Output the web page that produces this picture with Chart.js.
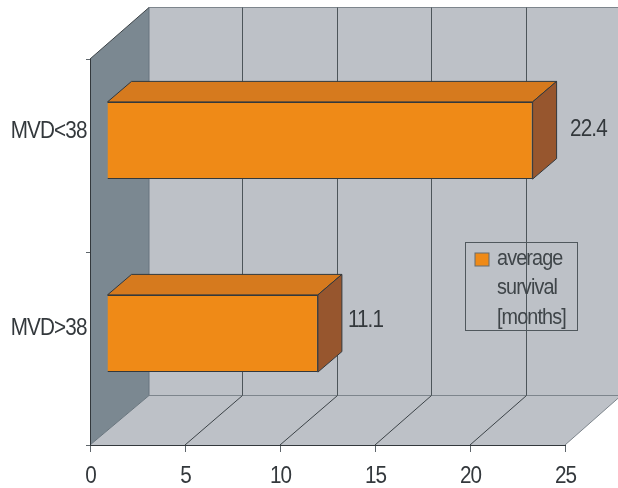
<!DOCTYPE html>
<html>
<head>
<meta charset="utf-8">
<title>Average survival</title>
<style>
    html, body { margin: 0; padding: 0; background: #ffffff; }
    canvas { display: block; }
</style>
<script src="https://cdn.jsdelivr.net/npm/chart.js@4"></script>
</head>
<body>
<canvas id="chart" width="618" height="488"></canvas>
<script>
const categories = ['MVD<38', 'MVD>38'];
const survivalMonths = [22.4, 11.1];
const legendLines = ['average', 'survival', '[months]'];
const axisMax = 25;
const axisStep = 5;

const FONT = '"Liberation Sans", Arial, sans-serif';
const TEXT_COLOR = '#33383c';
const SQUEEZE = 0.88;

// depth of the room and of the bars, in pixels
const ROOM_DX = 59;
const ROOM_DY_TOP = -51.5;
const ROOM_DY_BOTTOM = -49.5;
const BAR_SHIFT_X = 17;
const BAR_SHIFT_Y = -15;
const BAR_DX = 24;
const BAR_DY = -20.5;

function poly(ctx, pts, fill, stroke) {
    ctx.beginPath();
    pts.forEach((p, i) => i ? ctx.lineTo(p[0], p[1]) : ctx.moveTo(p[0], p[1]));
    ctx.closePath();
    if (fill) {
        ctx.fillStyle = fill;
        ctx.fill();
    }
    if (stroke) {
        ctx.strokeStyle = stroke;
        ctx.stroke();
    }
}

function line(ctx, x1, y1, x2, y2, color) {
    ctx.strokeStyle = color;
    ctx.beginPath();
    ctx.moveTo(x1, y1);
    ctx.lineTo(x2, y2);
    ctx.stroke();
}

// tight, slightly condensed text: no narrow face is available, so squeeze the regular one
function narrowText(ctx, text, x, y, align) {
    ctx.save();
    ctx.translate(x, y);
    ctx.scale(SQUEEZE, 1);
    ctx.letterSpacing = '-1px';
    ctx.textAlign = align;
    ctx.textBaseline = 'alphabetic';
    ctx.fillText(text, 0, 0);
    ctx.restore();
}

// back wall, side wall and floor, with the gridlines carried round them
const roomPlugin = {
    id: 'room',
    beforeDraw(chart) {
        const { ctx, chartArea: a, scales } = chart;
        // the back wall sits slightly narrower than the front plane
        const backX = x => x + ROOM_DX - (x - a.left) * 0.006;
        const top = a.top + ROOM_DY_TOP;
        const floor = a.bottom + ROOM_DY_BOTTOM;
        const bl = backX(a.left), br = backX(a.right);
        ctx.save();
        ctx.lineWidth = 1;
        poly(ctx, [[bl, top], [br, top], [br, floor], [bl, floor]], '#bdc1c7');
        poly(ctx, [[a.left, a.bottom], [a.right, a.bottom], [br, floor], [bl, floor]], '#bdc1c7');
        poly(ctx, [[a.left, a.top], [bl, top], [bl, floor], [a.left, a.bottom]], '#7b8891');

        line(ctx, bl, top, br, top, '#7d858c');
        line(ctx, bl, floor, br, floor, '#7d858c');
        line(ctx, bl, top, bl, floor, '#69757e');
        line(ctx, a.left, a.top, bl, top, '#3c4347');
        line(ctx, a.left, a.bottom, bl, floor, '#69757e');
        line(ctx, a.right, a.bottom, br, floor, '#7d858c');

        scales.x.ticks.forEach(t => {
            if (t.value === 0 || t.value === axisMax) return;
            const x = scales.x.getPixelForValue(t.value);
            const xb = Math.round(backX(x)) - 0.5;
            line(ctx, x, a.bottom, xb, floor, '#3c4347');
            line(ctx, xb, floor, xb, top, '#4d555a');
        });
        ctx.restore();
    }
};

// the library draws the front faces; top and side faces go in behind them
const boxPlugin = {
    id: 'box',
    beforeDatasetDraw(chart, args) {
        const { ctx } = chart;
        ctx.save();
        ctx.lineWidth = 1;
        args.meta.data.forEach(bar => {
            const half = bar.height / 2;
            const x0 = bar.base + BAR_SHIFT_X;
            const x1 = bar.x + BAR_SHIFT_X;
            const top = bar.y - half + BAR_SHIFT_Y;
            const bottom = bar.y + half + BAR_SHIFT_Y;
            poly(ctx, [[x0, top], [x1, top], [x1 + BAR_DX, top + BAR_DY], [x0 + BAR_DX, top + BAR_DY]], '#d67a1e', '#33383c');
            poly(ctx, [[x1, top], [x1 + BAR_DX, top + BAR_DY], [x1 + BAR_DX, bottom + BAR_DY], [x1, bottom]], '#97562e', '#33383c');
        });
        ctx.restore();
        ctx.save();
        ctx.translate(BAR_SHIFT_X, BAR_SHIFT_Y);
    },
    afterDatasetDraw(chart) {
        chart.ctx.restore();
    }
};

// tick labels, value labels beside the bars and the legend box on the back wall
const notesPlugin = {
    id: 'notes',
    afterDatasetsDraw(chart) {
        const { ctx, chartArea: a, scales } = chart;
        const bars = chart.getDatasetMeta(0).data;
        const labelGap = [54.5, 47];
        const labelRise = [19.5, 22];
        const categoryRise = [17.5, 14];
        ctx.save();
        ctx.font = '23.5px ' + FONT;
        ctx.fillStyle = TEXT_COLOR;

        scales.x.ticks.forEach((t, i) => {
            narrowText(ctx, t.label, scales.x.getPixelForTick(i) + 0.5, a.bottom + 37.5, 'center');
        });
        scales.y.ticks.forEach((t, i) => {
            narrowText(ctx, t.label, a.left - 3.5, scales.y.getPixelForTick(i) - categoryRise[i], 'right');
        });
        survivalMonths.forEach((v, i) => {
            narrowText(ctx, v.toFixed(1), bars[i].x + labelGap[i], bars[i].y - labelRise[i], 'left');
        });

        ctx.lineWidth = 1;
        ctx.strokeStyle = '#50585d';
        ctx.strokeRect(465.5, 242.5, 112, 88);
        ctx.fillStyle = '#ef8a17';
        ctx.strokeStyle = '#666c70';
        ctx.fillRect(475, 253, 14, 13);
        ctx.strokeRect(475, 253, 14, 13);

        ctx.font = '22.5px ' + FONT;
        ctx.fillStyle = '#3f4549';
        legendLines.forEach((text, i) => {
            narrowText(ctx, text, 497, 264.5 + i * 29.5, 'left');
        });
        ctx.restore();
    }
};

new Chart(document.getElementById('chart'), {
    type: 'bar',
    data: {
        labels: categories,
        datasets: [{
            label: legendLines.join(' '),
            data: survivalMonths,
            backgroundColor: '#ef8a17',
            borderColor: '#33383c',
            borderWidth: 1,
            barPercentage: 0.4,
            categoryPercentage: 1,
            clip: false
        }]
    },
    options: {
        indexAxis: 'y',
        responsive: false,
        animation: false,
        layout: {
            padding: { top: 59, right: 53, left: 0, bottom: 0 }
        },
        plugins: {
            legend: { display: false },
            tooltip: { enabled: false }
        },
        scales: {
            x: {
                min: 0,
                max: axisMax,
                afterFit(scale) { scale.height = 43; },
                ticks: {
                    display: false,
                    stepSize: axisStep
                },
                grid: {
                    drawOnChartArea: false,
                    tickLength: 7,
                    color: '#5e666b'
                },
                border: { color: '#33383c', width: 1 }
            },
            y: {
                afterFit(scale) { scale.width = 90; },
                ticks: { display: false },
                grid: {
                    drawOnChartArea: false,
                    tickLength: 4,
                    color: '#5e666b'
                },
                border: { color: '#33383c', width: 1 }
            }
        }
    },
    plugins: [roomPlugin, boxPlugin, notesPlugin]
});
</script>
</body>
</html>
